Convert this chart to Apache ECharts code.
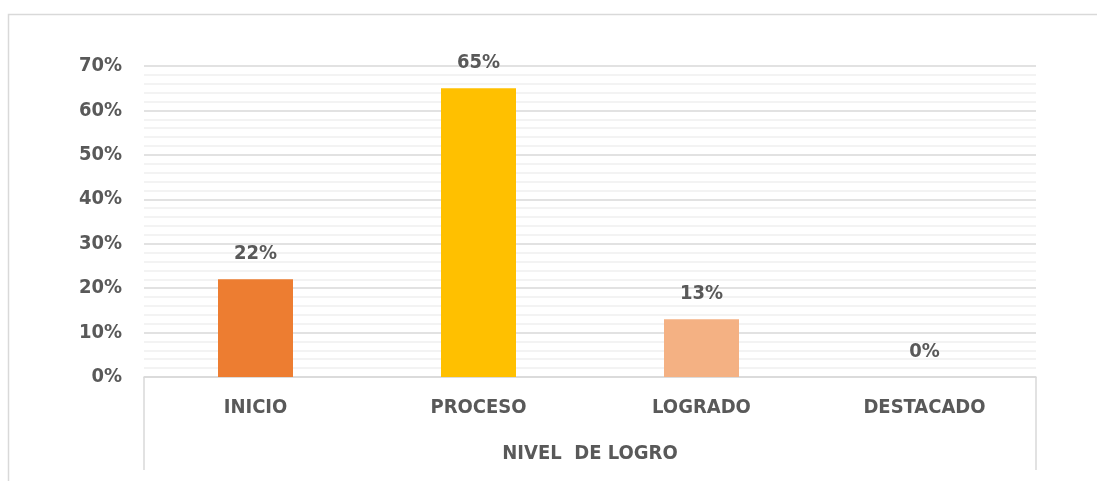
<!DOCTYPE html>
<html>
<head>
<meta charset="utf-8">
<script src="https://cdn.jsdelivr.net/npm/echarts@6/dist/echarts.min.js"></script>
<style>
  html, body { margin: 0; padding: 0; background: #fff; }
  #main { width: 1097px; height: 481px; }
</style>
</head>
<body>
<div id="main"></div>
<script>
const categories = ["INICIO", "PROCESO", "LOGRADO", "DESTACADO"];
const values = [22, 65, 13, 0];
const barColors = ["#ED7D31", "#FFC000", "#F4B183", "#A5A5A5"];
const groupName = ["NIVEL  DE LOGRO"];

const FONT = "'Liberation Sans Narrow', 'DejaVu Sans Condensed', sans-serif";
const TEXT = "#595959";
const FS = 20;

const chart = echarts.init(document.getElementById("main"));
const option = {
  animation: false,
  textStyle: { fontFamily: FONT },
  graphic: [
    {
      type: "rect",
      shape: { x: 8.5, y: 14.5, width: 1100, height: 500 },
      style: { fill: "none", stroke: "#d9d9d9", lineWidth: 1.5 },
      silent: true,
    },
  ],
  grid: { left: 144, right: 61, top: 66, bottom: 104 },
  xAxis: [
    {
      type: "category",
      data: categories,
      axisLine: { lineStyle: { color: "#d9d9d9", width: 1.5 } },
      axisTick: { show: false },
      axisLabel: {
        color: TEXT,
        fontWeight: "bold",
        fontSize: FS,
        fontFamily: FONT,
        margin: 21,
      },
    },
    {
      // grouping level under the categories
      type: "category",
      position: "bottom",
      data: groupName,
      axisLine: { show: false },
      axisTick: { show: true, length: 93, lineStyle: { color: "#d9d9d9", width: 1.5 } },
      axisLabel: {
        color: TEXT,
        fontWeight: "bold",
        fontSize: FS,
        fontFamily: FONT,
        margin: 67,
      },
    },
  ],
  yAxis: {
    type: "value",
    min: 0,
    max: 70,
    interval: 10,
    axisLine: { show: false },
    axisTick: { show: false },
    axisLabel: {
      formatter: "{value}%",
      color: TEXT,
      fontWeight: "bold",
      fontSize: FS,
      fontFamily: FONT,
      margin: 22,
    },
    splitLine: { lineStyle: { color: "#d9d9d9", width: 1.5 } },
    minorTick: { show: false, splitNumber: 5 },
    minorSplitLine: { show: true, lineStyle: { color: "#efefef", width: 1.5 } },
  },
  series: [
    {
      type: "bar",
      xAxisIndex: 0,
      data: values.map((v, i) => ({ value: v, itemStyle: { color: barColors[i] } })),
      barWidth: 75,
      label: {
        show: true,
        position: "top",
        distance: 15,
        formatter: "{c}%",
        color: TEXT,
        fontWeight: "bold",
        fontSize: FS,
        fontFamily: FONT,
      },
    },
  ],
};
chart.setOption(option);
</script>
</body>
</html>
